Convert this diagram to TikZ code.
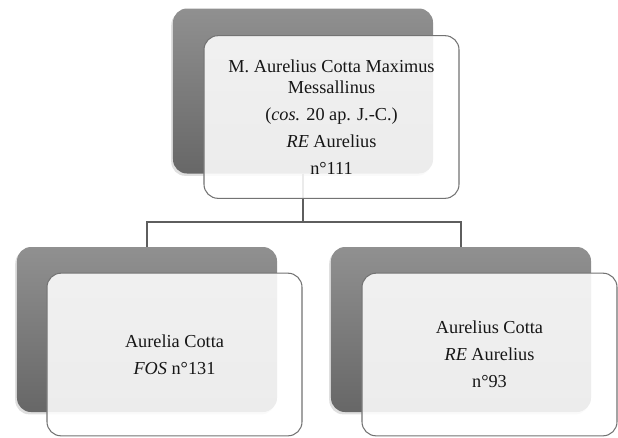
\documentclass[tikz,border=0pt]{standalone}
\usepackage{fontspec}
\setmainfont{Liberation Serif}
\usetikzlibrary{positioning,shadows}
\usepackage{xcolor}
\definecolor{famgrey}{HTML}{909090}
\definecolor{famdark}{HTML}{676767}
\definecolor{famline}{HTML}{5E5E5E}
\definecolor{famink}{HTML}{161616}
\tikzset{
    backcard/.style={
        rounded corners=12pt,top color=famgrey,bottom color=famdark,
        minimum width=7.8cm,minimum height=4.95cm,
        drop shadow={shadow xshift=-1.5pt,shadow yshift=-2pt,opacity=0.25}
    },
    namecard/.style={
        draw=black!55,line width=0.9pt,rounded corners=12pt,
        fill=white,fill opacity=0.88,text opacity=1,
        minimum width=7.65cm,minimum height=4.88cm,
        align=center,text=famink,
        font=\fontsize{15.6}{23}\selectfont
    },
    branch/.style={
        draw=famline,line width=1.3pt
    }
}

\begin{document}
\begin{tikzpicture}[x=0.03cm,y=-0.03cm]
\useasboundingbox (0,0) rectangle (618,437);

% grey cards behind
\node[backcard] (topback) at (303,91) {};
\node[backcard] (leftback) at (147,329.5) {};
\node[backcard] (rightback) at (461,329.5) {};

% tree lines
\coordinate (fork) at (303,222);
\draw[branch] (topback.south) -- (fork);
\draw[branch] (fork) -| (leftback.north);
\draw[branch] (fork) -| (rightback.north);

% name cards
\node[namecard] (topcard) at (331.5,117)
{M. Aurelius Cotta Maximus\\[-5pt]
Messallinus\\
(\textit{cos.} 20 ap. J.-C.)\\
\textit{RE} Aurelius\\
n°111};

\node[namecard] (leftcard) at (174.5,354.5)
{Aurelia Cotta\\
\textit{FOS} n°131};

\node[namecard] (rightcard) at (489.5,354.5)
{Aurelius Cotta\\
\textit{RE} Aurelius\\
n°93};

\end{tikzpicture}
\end{document}
